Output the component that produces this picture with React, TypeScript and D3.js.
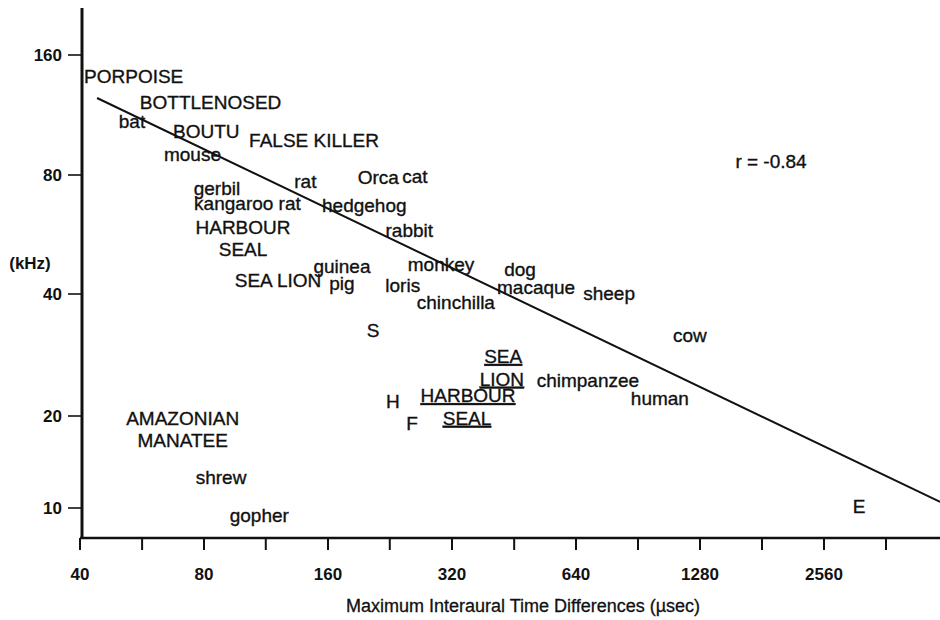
import { useEffect, useRef } from 'react'
import * as d3 from 'd3'

// labels plotted as text at (interaural time difference, high-frequency limit)
const species = [
  'PORPOISE', 'BOTTLENOSED', 'bat', 'BOUTU', 'FALSE KILLER', 'mouse', 'rat', 'Orca', 'cat',
  'gerbil', 'kangaroo rat', 'hedgehog', 'HARBOUR', 'SEAL', 'rabbit', 'guinea', 'pig', 'SEA LION',
  'monkey', 'loris', 'chinchilla', 'dog', 'macaque', 'sheep', 'S', 'cow', 'SEA', 'LION',
  'chimpanzee', 'HARBOUR', 'H', 'human', 'SEAL', 'F', 'AMAZONIAN', 'MANATEE', 'shrew', 'gopher', 'E'
]
const itdUsec = [
  54, 83, 53.5, 81, 148, 75, 141, 212, 260,
  86, 102, 196, 99.5, 99.5, 252, 173, 173, 121,
  301, 243, 327, 468, 512, 770, 206, 1210, 426, 423,
  684, 350, 230, 1023, 348, 256, 71, 71, 88, 109, 3113
]
const freqKHz = [
  142, 122, 109, 103, 98, 90, 77, 79, 79.5,
  74, 68, 67, 59, 52, 58, 47, 42.6, 43.4,
  47.6, 42, 38.2, 46.3, 41.7, 40.2, 32.6, 31.7, 28.1, 24.7,
  24.5, 22.5, 21.7, 22.1, 19.7, 19, 19.7, 16.7, 12.6, 9.5, 10.15
]
const underlined = ['SEA', 'LION', 'HARBOUR', 'SEAL'].map((_, i) => i) // indices into lowerGroup
const lowerGroup = [26, 27, 29, 32]

// regression line end points
const fitUsec = [44, 4900]
const fitKHz = [124.8, 10.47]

const xTicks = [40, 80, 160, 320, 640, 1280, 2560]
const xMinorTicks = [56.6, 113, 226, 453, 905, 1810, 3620]
const yTicks = [10, 20, 40, 80, 160]

export default function App() {
  const svgRef = useRef<SVGSVGElement>(null)

  useEffect(() => {
    if (!svgRef.current) return
    const svg = d3.select(svgRef.current)
    svg.selectAll('*').remove()

    const font = '"Liberation Sans", Arial, Helvetica, sans-serif'

    const x = d3.scaleLog().base(2).domain([40, 2560]).range([80, 824])
    // the printed axis is not evenly spaced at the bottom
    const y = d3.scaleLog().domain([10, 20, 40, 80, 160]).range([508, 416, 294, 175, 55])

    const axisY = 538
    const axisX = 82

    const g = svg.append('g')

    // regression line
    const line = d3.line<number>()
      .x(i => x(fitUsec[i]))
      .y(i => y(fitKHz[i]))
    g.append('path')
      .attr('d', line([0, 1]))
      .attr('fill', 'none')
      .attr('stroke', '#111')
      .attr('stroke-width', 2)

    // labels
    const under = new Set(lowerGroup.filter((_, k) => underlined.includes(k)))
    g.selectAll('.sp')
      .data(species.map((name, i) => ({ name, i })))
      .enter()
      .append('text')
      .attr('class', 'sp')
      .attr('x', d => x(itdUsec[d.i]))
      .attr('y', d => y(freqKHz[d.i]))
      .attr('dy', '0.36em')
      .attr('text-anchor', 'middle')
      .attr('font-family', font)
      .attr('font-size', 19)
      .attr('fill', '#111')
      .attr('stroke', '#111')
      .attr('stroke-width', 0.35)
      .style('text-decoration', d => (under.has(d.i) ? 'underline' : 'none'))
      .text(d => d.name)

    g.append('text')
      .attr('x', x(1904))
      .attr('y', y(86.7))
      .attr('dy', '0.36em')
      .attr('text-anchor', 'middle')
      .attr('font-family', font)
      .attr('font-size', 19)
      .attr('fill', '#111')
      .attr('stroke', '#111')
      .attr('stroke-width', 0.35)
      .text('r = -0.84')

    // y axis
    g.append('line')
      .attr('x1', axisX).attr('x2', axisX)
      .attr('y1', 8).attr('y2', axisY + 1)
      .attr('stroke', '#111').attr('stroke-width', 3)
    const yt = g.selectAll('.yt').data(yTicks).enter().append('g').attr('class', 'yt')
    yt.append('line')
      .attr('x1', 68).attr('x2', axisX)
      .attr('y1', d => y(d)).attr('y2', d => y(d))
      .attr('stroke', '#111').attr('stroke-width', 1.6)
    yt.append('text')
      .attr('x', 62)
      .attr('y', d => y(d))
      .attr('dy', '0.36em')
      .attr('text-anchor', 'end')
      .attr('font-family', font)
      .attr('font-size', 17)
      .attr('font-weight', 'bold')
      .attr('fill', '#111')
      .text(d => d)

    g.append('text')
      .attr('x', 30)
      .attr('y', 263)
      .attr('dy', '0.36em')
      .attr('text-anchor', 'middle')
      .attr('font-family', font)
      .attr('font-size', 17)
      .attr('font-weight', 'bold')
      .attr('fill', '#111')
      .text('(kHz)')

    // x axis
    g.append('line')
      .attr('x1', axisX - 2).attr('x2', 940)
      .attr('y1', axisY).attr('y2', axisY)
      .attr('stroke', '#111').attr('stroke-width', 2.5)
    g.selectAll('.xt')
      .data([...xTicks, ...xMinorTicks])
      .enter()
      .append('line')
      .attr('class', 'xt')
      .attr('x1', d => x(d)).attr('x2', d => x(d))
      .attr('y1', axisY).attr('y2', axisY + 12)
      .attr('stroke', '#111').attr('stroke-width', 2)
    g.selectAll('.xl')
      .data(xTicks)
      .enter()
      .append('text')
      .attr('class', 'xl')
      .attr('x', d => x(d))
      .attr('y', 580)
      .attr('text-anchor', 'middle')
      .attr('font-family', font)
      .attr('font-size', 17)
      .attr('font-weight', 'bold')
      .attr('fill', '#111')
      .text(d => d)

    g.append('text')
      .attr('x', 523)
      .attr('y', 612)
      .attr('text-anchor', 'middle')
      .attr('font-family', font)
      .attr('font-size', 18)
      .attr('fill', '#111')
      .attr('stroke', '#111')
      .attr('stroke-width', 0.3)
      .text('Maximum Interaural Time Differences (\u00b5sec)')
  }, [])

  return (
    <svg
      ref={svgRef}
      width={940}
      height={620}
      style={{ position: 'absolute', left: 0, top: 0, background: '#fff' }}
    />
  )
}
